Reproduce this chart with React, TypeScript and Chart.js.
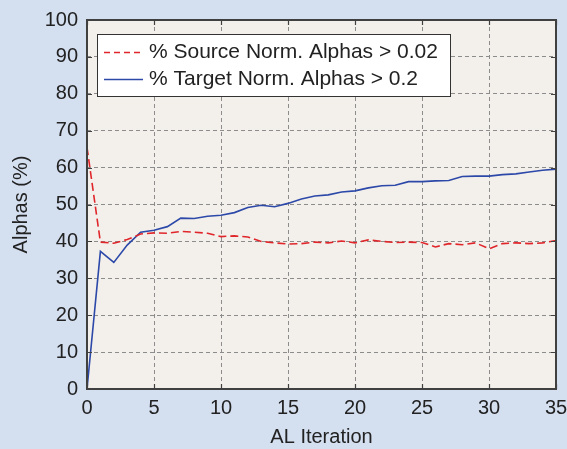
import React, { useEffect, useRef } from "react";
import { Chart, registerables } from "chart.js";

Chart.register(...registerables);

const iterations = [0, 1, 2, 3, 4, 5, 6, 7, 8, 9, 10, 11, 12, 13, 14, 15, 16, 17, 18, 19, 20, 21, 22, 23, 24, 25, 26, 27, 28, 29, 30, 31, 32, 33, 34, 35];
const sourceAlphas = [65.5, 39.8, 39.5, 40.5, 42.0, 42.3, 42.2, 42.7, 42.5, 42.2, 41.3, 41.5, 41.2, 40.0, 39.6, 39.3, 39.4, 39.8, 39.6, 40.1, 39.6, 40.4, 40.0, 39.7, 39.8, 39.7, 38.5, 39.4, 39.1, 39.6, 38.0, 39.4, 39.6, 39.4, 39.6, 40.2];
const targetAlphas = [0, 37.3, 34.3, 39.0, 42.5, 43.0, 44.0, 46.3, 46.2, 46.8, 47.1, 47.8, 49.2, 49.8, 49.4, 50.3, 51.5, 52.3, 52.6, 53.4, 53.7, 54.5, 55.1, 55.2, 56.2, 56.2, 56.4, 56.5, 57.6, 57.7, 57.7, 58.1, 58.3, 58.8, 59.3, 59.6];
const seriesNames = ["% Source Norm. Alphas > 0.02", "% Target Norm. Alphas > 0.2"];
const xTitle = "AL Iteration";
const yTitle = "Alphas (%)";

const FONT = "'Liberation Sans', Arial, sans-serif";
const OUTER_BG = "#d4dff0";
const PLOT_BG = "#f3f0eb";
const RED = "#e0262b";
const BLUE = "#2c48a8";
const FRAME = "#404040";

const bgPlugin = {
  id: "bgPlugin",
  beforeDraw(chart: any) {
    const { ctx, chartArea } = chart;
    ctx.save();
    ctx.fillStyle = OUTER_BG;
    ctx.fillRect(0, 0, chart.width, chart.height);
    ctx.fillStyle = PLOT_BG;
    ctx.fillRect(chartArea.left, chartArea.top, chartArea.right - chartArea.left, chartArea.bottom - chartArea.top);
    ctx.restore();
  },
  afterDraw(chart: any) {
    const { ctx, chartArea, scales } = chart;
    const { left, right, top, bottom } = chartArea;
    ctx.save();
    ctx.strokeStyle = FRAME;
    ctx.lineWidth = 1.2;
    const tl = 5;
    scales.x.ticks.forEach((t: any) => {
      const px = Math.round(scales.x.getPixelForValue(t.value)) + 0.5;
      ctx.beginPath();
      ctx.moveTo(px, bottom);
      ctx.lineTo(px, bottom - tl);
      ctx.moveTo(px, top);
      ctx.lineTo(px, top + tl);
      ctx.stroke();
    });
    scales.y.ticks.forEach((t: any) => {
      const py = Math.round(scales.y.getPixelForValue(t.value)) + 0.5;
      ctx.beginPath();
      ctx.moveTo(left, py);
      ctx.lineTo(left + tl, py);
      ctx.moveTo(right, py);
      ctx.lineTo(right - tl, py);
      ctx.stroke();
    });
    ctx.lineWidth = 2;
    ctx.strokeRect(left, top, right - left, bottom - top);

    // legend
    const lx = 97.5, ly = 34.5, lw = 353, lh = 62;
    ctx.fillStyle = "#ffffff";
    ctx.fillRect(lx, ly, lw, lh);
    ctx.strokeStyle = "#333333";
    ctx.lineWidth = 1;
    ctx.strokeRect(lx, ly, lw, lh);
    const rows = [52.5, 79.5];
    const colors = [RED, BLUE];
    const dashes = [[6, 4], []];
    rows.forEach((ry, i) => {
      ctx.beginPath();
      ctx.strokeStyle = colors[i];
      ctx.lineWidth = 1.3;
      ctx.setLineDash(dashes[i]);
      ctx.moveTo(104, ry);
      ctx.lineTo(143, ry);
      ctx.stroke();
      ctx.setLineDash([]);
      ctx.fillStyle = "#222222";
      ctx.font = `21px ${FONT}`;
      ctx.textBaseline = "middle";
      ctx.textAlign = "left";
      ctx.fillText(seriesNames[i], 149, ry);
    });
    ctx.restore();
  },
};

export default function App() {
  const ref = useRef<HTMLCanvasElement | null>(null);
  useEffect(() => {
    document.body.style.margin = "0";
    const canvas = ref.current;
    if (!canvas) return;
    const chart = new Chart(canvas, {
      type: "line",
      data: {
        datasets: [
          {
            label: seriesNames[0],
            data: iterations.map((x, i) => ({ x, y: sourceAlphas[i] })),
            borderColor: RED,
            borderWidth: 1.6,
            borderDash: [8, 4],
            pointRadius: 0,
            tension: 0,
            fill: false,
          },
          {
            label: seriesNames[1],
            data: iterations.map((x, i) => ({ x, y: targetAlphas[i] })),
            borderColor: BLUE,
            borderWidth: 1.6,
            pointRadius: 0,
            tension: 0,
            fill: false,
          },
        ],
      },
      options: {
        animation: false,
        responsive: false,
        maintainAspectRatio: false,
        layout: { padding: { left: 0, top: 20, right: 11, bottom: 0 } },
        plugins: { legend: { display: false }, tooltip: { enabled: false } },
        scales: {
          x: {
            type: "linear",
            min: 0,
            max: 35,
            afterFit(scale: any) {
              scale.height = 60;
              scale.paddingLeft = 0;
              scale.paddingRight = 0;
            },
            ticks: { stepSize: 5, padding: 7, color: "#222", font: { family: FONT, size: 20 }, maxRotation: 0 },
            grid: { color: "#8c8c8c", lineWidth: 1, drawTicks: false },
            border: { display: false, dash: [4, 3] },
            title: { display: true, text: xTitle, color: "#222", font: { family: FONT, size: 20 }, padding: { top: 0, bottom: 0 } },
          },
          y: {
            min: 0,
            max: 100,
            afterFit(scale: any) {
              scale.width = 87;
              scale.paddingTop = 0;
              scale.paddingBottom = 0;
            },
            ticks: { stepSize: 10, padding: 9, color: "#222", font: { family: FONT, size: 20 } },
            grid: { color: "#8c8c8c", lineWidth: 1, drawTicks: false },
            border: { display: false, dash: [4, 3] },
            title: { display: true, text: yTitle, color: "#222", font: { family: FONT, size: 20 }, padding: { top: 9, bottom: 0 } },
          },
        },
      },
      plugins: [bgPlugin],
    });
    return () => chart.destroy();
  }, []);
  return <canvas ref={ref} width={567} height={449} style={{ display: "block" }} />;
}
